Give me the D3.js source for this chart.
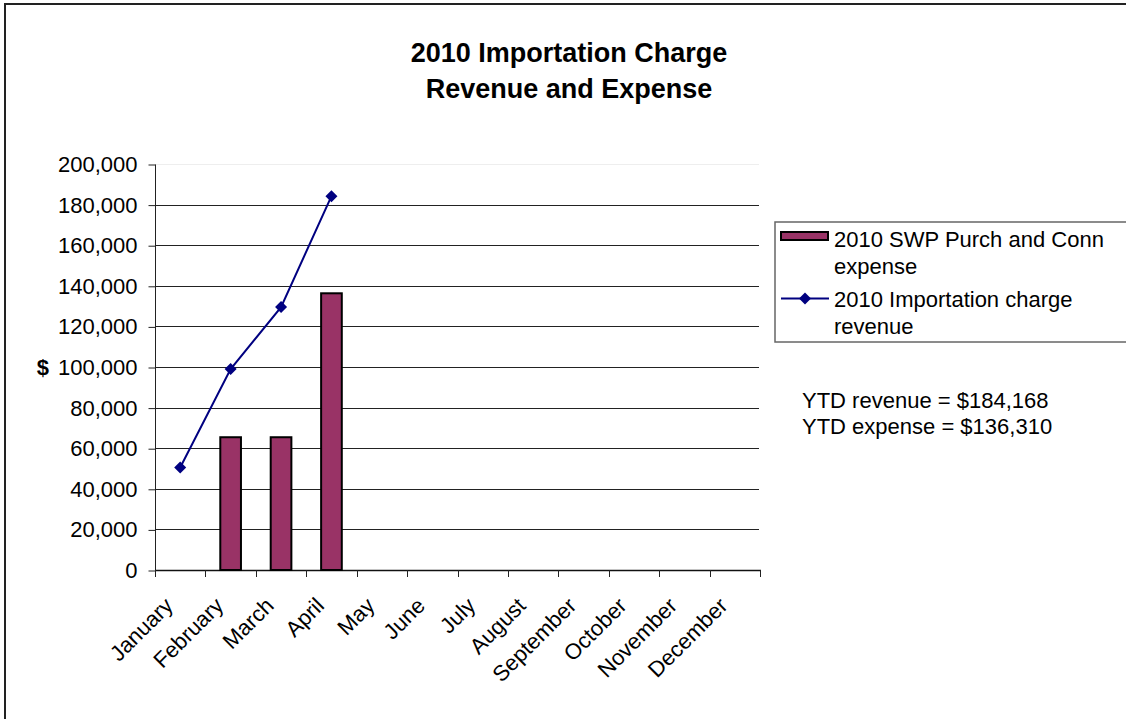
<!DOCTYPE html>
<html>
<head>
<meta charset="utf-8">
<script src="https://cdn.jsdelivr.net/npm/d3@7"></script>
<style>
  html, body { margin: 0; padding: 0; background: #fff; overflow: hidden; }
  svg { display: block; font-family: "Liberation Sans", Arial, sans-serif; }
</style>
</head>
<body>
<svg id="chart" width="1126" height="719"></svg>
<script>
const months = ["January","February","March","April","May","June","July","August","September","October","November","December"];
const expense = [null, 65400, 65400, 136310, null, null, null, null, null, null, null, null];
const revenue = [50500, 99000, 129500, 184168, null, null, null, null, null, null, null, null];
const yTicks = [0, 20000, 40000, 60000, 80000, 100000, 120000, 140000, 160000, 180000, 200000];
const titleLines = ["2010 Importation Charge", "Revenue and Expense"];
const seriesNames = [["2010 SWP Purch and Conn", "expense"], ["2010 Importation charge", "revenue"]];
const notes = ["YTD revenue = $184,168", "YTD expense = $136,310"];

const svg = d3.select("#chart");
const plot = { left: 155, right: 760, top: 164, bottom: 570 };

// outer border
svg.append("rect").attr("x", 5).attr("y", 4).attr("width", 1140).attr("height", 740)
  .attr("fill", "#fff").attr("stroke", "#222").attr("stroke-width", 2);

// title
svg.append("text").attr("x", 569).attr("y", 62).attr("text-anchor", "middle")
  .attr("font-size", 27).attr("font-weight", "bold")
  .selectAll("tspan").data(titleLines).join("tspan")
  .attr("x", 569).attr("dy", (d, i) => i === 0 ? 0 : 36).text(d => d);

const x = d3.scaleBand().domain(months).range([plot.left, plot.right]).paddingInner(0).paddingOuter(0);
const y = d3.scaleLinear().domain([0, 200000]).range([plot.bottom, plot.top]);

// gridlines
svg.append("g").selectAll("line").data(yTicks.filter(t => t > 0)).join("line")
  .attr("x1", plot.left).attr("x2", plot.right - 1)
  .attr("y1", d => Math.round(y(d)) + 0.5).attr("y2", d => Math.round(y(d)) + 0.5)
  .attr("stroke", d => d === 200000 ? "#eeeeee" : "#222").attr("stroke-width", 1);

// y axis
const yAxis = d3.axisLeft(y).tickValues(yTicks).tickSize(7).tickPadding(11)
  .tickFormat(d3.format(","));
const gy = svg.append("g").attr("transform", `translate(${plot.left + 0.5},0.5)`).call(yAxis);
gy.select(".domain").attr("stroke", "#222").attr("d", `M-0,${plot.top}V${plot.bottom}`);
gy.selectAll(".tick line").attr("stroke", "#222");
gy.selectAll(".tick text").attr("font-size", 22).attr("fill", "#000")
  .attr("font-family", "'Liberation Sans', Arial, sans-serif");

// y axis title
svg.append("text").attr("x", 49).attr("y", y(100000)).attr("dy", "0.35em")
  .attr("text-anchor", "end").attr("font-size", 22).attr("font-weight", "bold").text("$");

// x axis
const xTickPos = months.map(m => x(m)).concat([plot.right]);
svg.append("line").attr("x1", plot.left).attr("x2", plot.right + 1)
  .attr("y1", plot.bottom + 0.5).attr("y2", plot.bottom + 0.5).attr("stroke", "#111").attr("stroke-width", 1.5);
svg.append("g").selectAll("line").data(xTickPos).join("line")
  .attr("x1", d => Math.round(d) + 0.5).attr("x2", d => Math.round(d) + 0.5)
  .attr("y1", plot.bottom).attr("y2", plot.bottom + 7).attr("stroke", "#222");

svg.append("g").selectAll("text").data(months).join("text")
  .attr("transform", d => `translate(${x(d) + x.bandwidth() / 2 - 17},${596}) rotate(-45)`)
  .attr("text-anchor", "end").attr("dy", "0.71em").attr("font-size", 22).text(d => d);

// bars
const barW = x.bandwidth() * 0.41;
svg.append("g").selectAll("rect").data(months.map((m, i) => ({ m, v: expense[i] })).filter(d => d.v != null)).join("rect")
  .attr("x", d => x(d.m) + x.bandwidth() / 2 - barW / 2)
  .attr("width", barW)
  .attr("y", d => y(d.v))
  .attr("height", d => y(0) - y(d.v))
  .attr("fill", "#993366").attr("stroke", "#000").attr("stroke-width", 2);

// line
const pts = months.map((m, i) => ({ m, v: revenue[i] })).filter(d => d.v != null);
const line = d3.line().x(d => x(d.m) + x.bandwidth() / 2).y(d => y(d.v));
svg.append("path").datum(pts).attr("d", line).attr("fill", "none")
  .attr("stroke", "#000080").attr("stroke-width", 2);
const diamond = d3.symbol().type(d3.symbolSquare).size(72);
svg.append("g").selectAll("path").data(pts).join("path")
  .attr("d", diamond)
  .attr("transform", d => `translate(${x(d.m) + x.bandwidth() / 2},${y(d.v)}) rotate(45)`)
  .attr("fill", "#000080");

// legend
const lg = svg.append("g");
lg.append("rect").attr("x", 775).attr("y", 222).attr("width", 400).attr("height", 120)
  .attr("fill", "#fff").attr("stroke", "#666").attr("stroke-width", 1.5);
lg.append("rect").attr("x", 781).attr("y", 232).attr("width", 47).attr("height", 8)
  .attr("fill", "#993366").attr("stroke", "#000").attr("stroke-width", 2);
lg.append("line").attr("x1", 781).attr("x2", 829).attr("y1", 298.5).attr("y2", 298.5)
  .attr("stroke", "#000080").attr("stroke-width", 2);
lg.append("path").attr("d", diamond).attr("transform", "translate(805,298.5) rotate(45)").attr("fill", "#000080");
const legendBase = [247, 307];
seriesNames.forEach((lines, i) => {
  lg.append("text").attr("x", 834).attr("y", legendBase[i]).attr("font-size", 22)
    .selectAll("tspan").data(lines).join("tspan")
    .attr("x", 834).attr("dy", (d, j) => j === 0 ? 0 : 26.5).text(d => d);
});

// notes
svg.append("g").selectAll("text").data(notes).join("text")
  .attr("x", 802).attr("y", (d, i) => 408 + i * 26).attr("font-size", 22).text(d => d);
</script>
</body>
</html>
